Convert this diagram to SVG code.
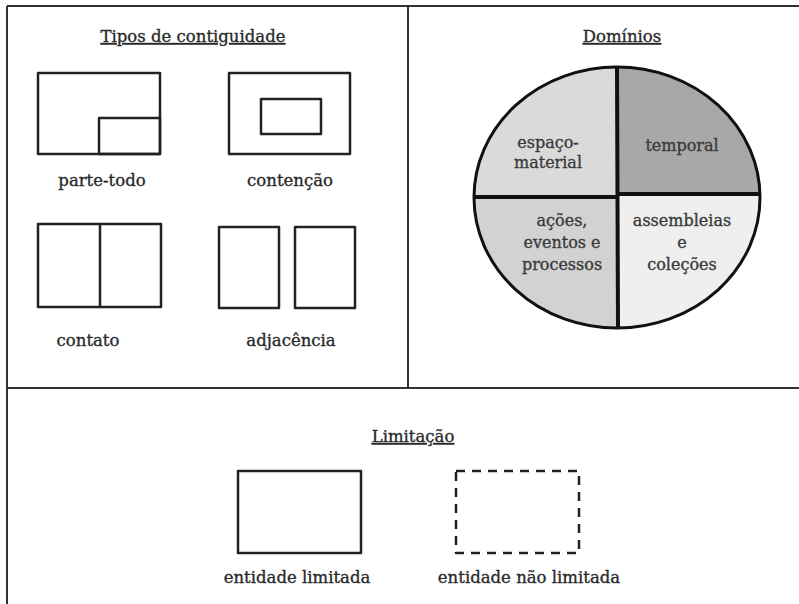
<svg xmlns="http://www.w3.org/2000/svg" width="799" height="604" viewBox="0 0 799 604">
  <style>
    .frame { stroke: #333; stroke-width: 2; fill: none; }
    .box { stroke: #222; stroke-width: 2.5; fill: none; stroke-linejoin: round; }
    .dash { stroke: #222; stroke-width: 2.5; fill: none; stroke-dasharray: 9 7; stroke-linejoin: round; }
    .lbl, .ttl, .pie { font-family: "DejaVu Serif", "Liberation Serif", serif; text-anchor: middle; stroke-width: 0.35; }
    .lbl { font-size: 16.5px; fill: #2a2a2a; stroke: #2a2a2a; }
    .ttl { font-size: 16.5px; fill: #2a2a2a; stroke: #2a2a2a; text-decoration: underline; }
    .pie { font-size: 16px; fill: #3a3a3a; stroke: #3a3a3a; }
  </style>
  <defs>
    <clipPath id="pieClip">
      <ellipse cx="617" cy="197.5" rx="143" ry="130.5"/>
    </clipPath>
  </defs>
  <rect width="799" height="604" fill="#fff"/>

  <!-- panel frame -->
  <g id="frame">
    <line class="frame" x1="7" y1="6" x2="799" y2="6"/>
    <line class="frame" x1="7" y1="6" x2="7" y2="604"/>
    <line class="frame" x1="7" y1="388" x2="799" y2="388"/>
    <line class="frame" x1="408" y1="6" x2="408" y2="388"/>
  </g>

  <!-- contiguity panel -->
  <g id="contiguidade">
    <text class="ttl" x="193" y="42">Tipos de contiguidade</text>
    <g id="parte-todo">
      <rect class="box" x="38" y="73" width="122" height="81"/>
      <rect class="box" x="99" y="118" width="61" height="36"/>
      <text class="lbl" x="102" y="186">parte-todo</text>
    </g>
    <g id="contencao">
      <rect class="box" x="229" y="73" width="121" height="81"/>
      <rect class="box" x="261" y="99" width="60" height="35"/>
      <text class="lbl" x="290" y="186">contenção</text>
    </g>
    <g id="contato">
      <rect class="box" x="38" y="224" width="123" height="83"/>
      <line class="box" x1="100" y1="224" x2="100" y2="307"/>
      <text class="lbl" x="88" y="346">contato</text>
    </g>
    <g id="adjacencia">
      <rect class="box" x="219" y="227" width="60" height="81"/>
      <rect class="box" x="295" y="227" width="60" height="81"/>
      <text class="lbl" x="291" y="346">adjacência</text>
    </g>
  </g>

  <!-- domains panel -->
  <g id="dominios">
    <text class="ttl" x="622" y="42">Domínios</text>
    <g clip-path="url(#pieClip)">
      <rect x="470" y="60" width="148" height="136" fill="#dadada"/>
      <rect x="617" y="60" width="148" height="134" fill="#a8a8a8"/>
      <rect x="470" y="196" width="148" height="140" fill="#d2d2d2"/>
      <rect x="617" y="194" width="148" height="140" fill="#efefef"/>
    </g>
    <ellipse cx="617" cy="197.5" rx="143" ry="130.5" fill="none" stroke="#111" stroke-width="3"/>
    <line x1="617" y1="67" x2="618" y2="328" stroke="#111" stroke-width="4"/>
    <line x1="474" y1="197" x2="617" y2="197" stroke="#111" stroke-width="4"/>
    <line x1="617" y1="194" x2="760" y2="194" stroke="#111" stroke-width="4"/>
    <g id="espaco-material">
      <text class="pie" x="548" y="148">espaço-</text>
      <text class="pie" x="548" y="168">material</text>
    </g>
    <g id="temporal">
      <text class="pie" x="682" y="151">temporal</text>
    </g>
    <g id="acoes">
      <text class="pie" x="562" y="226">ações,</text>
      <text class="pie" x="562" y="248">eventos e</text>
      <text class="pie" x="562" y="270">processos</text>
    </g>
    <g id="assembleias">
      <text class="pie" x="682" y="226">assembleias</text>
      <text class="pie" x="682" y="248">e</text>
      <text class="pie" x="682" y="270">coleções</text>
    </g>
  </g>

  <!-- boundedness panel -->
  <g id="limitacao">
    <text class="ttl" x="413" y="442">Limitação</text>
    <g id="limitada">
      <rect class="box" x="238" y="471" width="123" height="82"/>
      <text class="lbl" x="297" y="583">entidade limitada</text>
    </g>
    <g id="nao-limitada">
      <rect class="dash" x="456" y="471" width="123" height="82"/>
      <text class="lbl" x="529" y="583">entidade não limitada</text>
    </g>
  </g>
</svg>
